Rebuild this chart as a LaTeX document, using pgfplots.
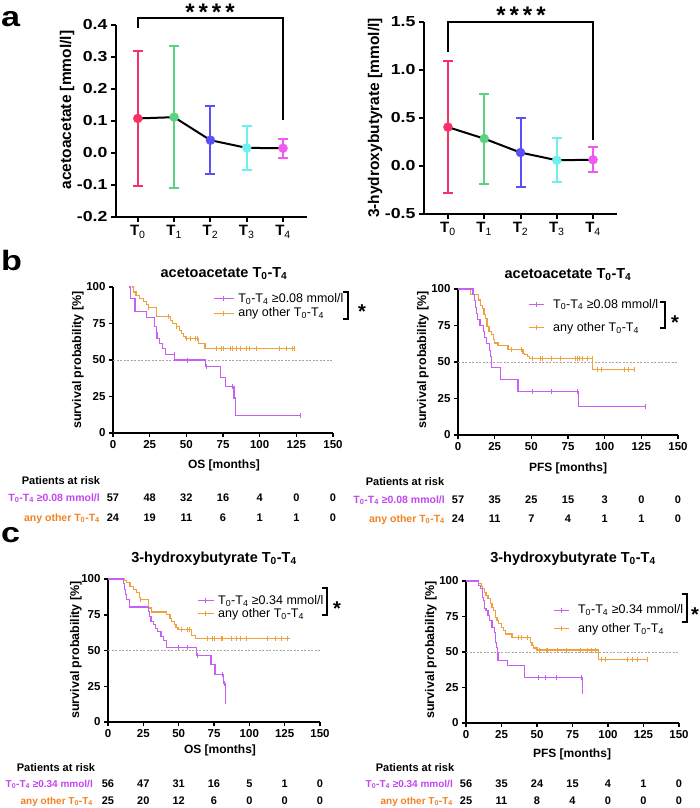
\documentclass[border=0pt]{standalone}
\usepackage{fontspec}
\setmainfont{Liberation Sans}
\newfontfamily\wide[FakeStretch=1.22]{Liberation Sans}
\usepackage{pgfplots}
\pgfplotsset{compat=1.18}
\newcommand{\fs}[1]{\fontsize{#1}{#1}\selectfont}
\definecolor{cT0}{RGB}{245,50,100}
\definecolor{cT1}{RGB}{90,210,130}
\definecolor{cT2}{RGB}{90,80,245}
\definecolor{cT3}{RGB}{110,240,240}
\definecolor{cT4}{RGB}{240,90,240}
\definecolor{colP}{RGB}{200,95,245}
\definecolor{colO}{RGB}{240,160,60}
\definecolor{txtP}{RGB}{195,70,240}
\definecolor{txtO}{RGB}{240,130,35}
\newcommand{\TT}{T\textsubscript{0}-T\textsubscript{4}}
\pgfplotsset{
  panela/.style={scale only axis, anchor=south west, axis x line=bottom, axis y line=left,
    axis line style={line width=2pt,-}, tick align=outside, major tick length=5pt,
    tick style={line width=2pt,black}, yticklabel style={font=\wide\fs{14.5}\bfseries},
    xticklabel style={font=\fs{15}\bfseries},
    xtick={0,1,2,3,4},
    xticklabels={T\textsubscript{\mdseries 0},T\textsubscript{\mdseries 1},T\textsubscript{\mdseries 2},T\textsubscript{\mdseries 3},T\textsubscript{\mdseries 4}},
    clip=false},
  eb/.style={#1, only marks, mark=*, mark size=4.5pt, error bars/.cd, y dir=both, y explicit,
    error bar style={line width=2pt,#1}, error mark options={rotate=90, mark size=5pt, line width=2pt, #1}},
  kmaxis/.style={scale only axis, anchor=south west, axis x line=bottom, axis y line=left,
    axis line style={line width=1.5pt,-}, xmin=0,xmax=150,ymin=0,ymax=100,
    xtick={0,25,...,150}, ytick={0,25,50,75,100},
    tick align=outside, major tick length=4pt, tick style={line width=1.5pt,black},
    tick label style={font=\fs{11.5}\bfseries}, /pgf/number format/assume math mode=true,
    clip=false,
    legend style={draw=none, fill=none, font=\fs{12.5}, cells={anchor=west}, inner sep=0pt,
      nodes={inner sep=1pt}, /tikz/column 1/.style={column sep=3pt}}},
  half/.style={gray!70, line width=0.6pt, dash pattern=on 2pt off 1.5pt, forget plot},
  lineP/.style={colP, line width=1.1pt, const plot, forget plot},
  lineO/.style={colO, line width=1.1pt, const plot, forget plot},
  cenP/.style={colP, only marks, mark=|, mark size=2.5pt, mark options={line width=1pt}, forget plot},
  cenO/.style={colO, only marks, mark=|, mark size=2.5pt, mark options={line width=1pt}, forget plot},
}
\begin{document}
\begin{tikzpicture}
\path[use as bounding box] (0,0) rectangle (700pt,-808pt);
% panel letters
\node[anchor=base west, inner sep=0, font=\wide\fs{28}\bfseries] at (1pt,-27pt) {a};
\node[anchor=base west, inner sep=0, font=\wide\fs{28}\bfseries] at (1pt,-270pt) {b};
\node[anchor=base west, inner sep=0, font=\wide\fs{28}\bfseries] at (1pt,-542pt) {c};

% ---------- panel a left
\begin{axis}[panela, at={(116pt,-217pt)}, width=191pt, height=192pt,
  xmin=-0.6, xmax=4.66, ymin=-0.2, ymax=0.4,
  ytick={-0.2,-0.1,0,0.1,0.2,0.3,0.4}, yticklabels={-0.2,-0.1,0.0,0.1,0.2,0.3,0.4}]
\addplot[black, line width=2pt] coordinates {(0,0.108)(1,0.112)(2,0.040)(3,0.016)(4,0.015)};
\addplot[eb=cT0] coordinates {(0,0.108) += (0,0.212) -= (0,0.211)};
\addplot[eb=cT1] coordinates {(1,0.112) += (0,0.221) -= (0,0.222)};
\addplot[eb=cT2] coordinates {(2,0.040) += (0,0.106) -= (0,0.106)};
\addplot[eb=cT3] coordinates {(3,0.016) += (0,0.067) -= (0,0.068)};
\addplot[eb=cT4] coordinates {(4,0.015) += (0,0.030) -= (0,0.031)};
\draw[line width=1.6pt] (axis cs:0,0.39) -- (axis cs:0,0.422) -- (axis cs:4,0.422) -- (axis cs:4,0.103);
\end{axis}
\node[anchor=base, inner sep=0, font=\fs{24}\bfseries] at (210pt,-20.5pt) {*\kern4pt*\kern4pt*\kern4pt*};
\node[rotate=90, font=\fs{15.5}\bfseries] at (67pt,-110pt) {acetoacetate [mmol/l]};

% ---------- panel a right
\begin{axis}[panela, at={(424pt,-214pt)}, width=193pt, height=192pt,
  xmin=-0.66, xmax=4.66, ymin=-0.5, ymax=1.5,
  ytick={-0.5,0,0.5,1,1.5}, yticklabels={-0.5,0.0,0.5,1.0,1.5}]
\addplot[black, line width=2pt] coordinates {(0,0.405)(1,0.285)(2,0.14)(3,0.06)(4,0.065)};
\addplot[eb=cT0] coordinates {(0,0.405) += (0,0.685) -= (0,0.69)};
\addplot[eb=cT1] coordinates {(1,0.285) += (0,0.465) -= (0,0.47)};
\addplot[eb=cT2] coordinates {(2,0.14) += (0,0.36) -= (0,0.36)};
\addplot[eb=cT3] coordinates {(3,0.06) += (0,0.23) -= (0,0.23)};
\addplot[eb=cT4] coordinates {(4,0.065) += (0,0.13) -= (0,0.13)};
\draw[line width=1.6pt] (axis cs:0,1.19) -- (axis cs:0,1.5) -- (axis cs:4,1.5) -- (axis cs:4,0.27);
\end{axis}
\node[anchor=base, inner sep=0, font=\fs{24}\bfseries] at (521pt,-23.5pt) {*\kern4pt*\kern4pt*\kern4pt*};
\node[rotate=90, font=\fs{15.5}\bfseries] at (375pt,-118pt) {3-hydroxybutyrate [mmol/l]};

% ---------- panel b left (OS acetoacetate)
\begin{axis}[kmaxis, at={(113pt,-433pt)}, width=220pt, height=146pt,
  legend style={at={(0.455,0.965)}, anchor=north west, row sep=2pt},
  legend image code/.code={\draw[#1,line width=1pt] (0pt,0pt) -- (20pt,0pt); \draw[#1,line width=1pt] (10pt,-2.5pt) -- (10pt,2.5pt);}]
\addplot[half] coordinates {(0,50)(150,50)};
\addplot[lineO] coordinates {(12.7,100)(13.9,96.6)(15.7,94.3)(18,92)(20.7,89.8)(23,88)(24.1,86)(29.8,79.5)(38.9,77.3)(40.7,75)(43,72.7)(45.2,70.5)(46.8,68)(48,66)(49.8,64.8)(58.2,61.4)(62.7,58)(123.6,58)};
\addplot[cenO] coordinates {(24.1,86)(37.7,79.5)(43,72.7)(49.8,64.8)(52.5,64.8)(56,64.8)(57.5,64.8)(70.7,58)(74,58)(75.2,58)(80.2,58)(81.4,58)(83.9,58)(87,58)(91,58)(93.4,58)(97.5,58)(113.6,58)(118.4,58)(122.3,58)(123.6,58)};
\addplot[lineP] coordinates {(11,100)(12,92)(15,83)(23,79)(28.6,73)(29.5,69)(30,65)(31.5,61)(33.5,58)(35.5,54)(41.8,50)(63.2,45.5)(73,38)(76.4,32)(82.5,24)(83.6,12)(128,12)};
\addplot[cenP] coordinates {(41.8,54)(51,50)(63.5,45.5)(81.6,32)(128,12)};
\addlegendimage{colP}\addlegendentry{\TT\ ≥0.08 mmol/l}
\addlegendimage{colO}\addlegendentry{any other \TT}
\end{axis}

% ---------- panel b right (PFS acetoacetate)
\begin{axis}[kmaxis, at={(458pt,-435pt)}, width=220pt, height=146pt,
  legend style={at={(0.318,0.94)}, anchor=north west, row sep=11pt, /tikz/column 1/.style={column sep=8pt}},
  legend image code/.code={\draw[#1,line width=1pt] (0pt,0pt) -- (15pt,0pt); \draw[#1,line width=1pt] (7.5pt,-2.5pt) -- (7.5pt,2.5pt);}]
\addplot[half] coordinates {(0,50)(150,50)};
\addplot[lineO] coordinates {(0,100)(8.6,96.4)(14.1,92.5)(15.5,89)(16.4,86.4)(17.7,82.3)(18.6,80)(19.8,74.3)(21.1,70.9)(22.7,68.6)(23.9,65.2)(25,63)(27.3,61.4)(34.1,58.4)(44.3,56)(45.5,55)(47.3,53.9)(48.9,52.7)(92,44.8)(120.5,44.8)};
\addplot[cenO] coordinates {(36.8,58.4)(43.2,58.4)(50.7,52.7)(56.4,52.7)(57.3,52.7)(63.6,52.7)(70,52.7)(80,52.7)(81.4,52.7)(83,52.7)(85.2,52.7)(88.6,52.7)(91.4,52.7)(94.8,44.8)(97.7,44.8)(113.2,44.8)(116.4,44.8)(120.5,44.8)};
\addplot[lineP] coordinates {(0,100)(10.2,96)(11,92)(12,87.5)(12.7,83)(13.4,79)(15,75)(17.5,71)(18.2,67)(19.5,62.5)(21.2,58)(22,54)(22.7,46)(28.9,38)(40.9,29.5)(82.3,19.8)(127.7,19.8)};
\addplot[cenP] coordinates {(50.7,29.5)(63.6,29.5)(81.4,29.5)(127.7,19.8)};
\addlegendimage{colP}\addlegendentry{\TT\ ≥0.08 mmol/l}
\addlegendimage{colO}\addlegendentry{any other \TT}
\end{axis}

% ---------- panel c left (OS 3-HB)
\begin{axis}[kmaxis, at={(108pt,-722pt)}, width=212pt, height=143pt,
  legend style={at={(0.42,0.895)}, anchor=north west, row sep=0.5pt},
  legend image code/.code={\draw[#1,line width=1pt] (0pt,0pt) -- (16pt,0pt); \draw[#1,line width=1pt] (8pt,-2.5pt) -- (8pt,2.5pt);}]
\addplot[half] coordinates {(0,50)(150,50)};
\addplot[lineO] coordinates {(0,100)(11.6,99)(13.2,97.4)(15.6,95)(17.9,92.7)(20.3,90.3)(22.6,87.3)(23.3,85.6)(28.5,79.7)(30.9,76.9)(41.5,75)(43.9,72.6)(45,70.3)(46.9,67.9)(48.1,66)(49.5,64.4)(59.2,60.8)(61.6,58.5)(128.8,58.5)};
\addplot[cenO] coordinates {(23.3,85.6)(52.1,64.4)(56.4,64.4)(58,64.4)(70.5,58.5)(73.8,58.5)(75.7,58.5)(80,58.5)(80.9,58.5)(87.5,58.5)(91,58.5)(94.1,58.5)(98.1,58.5)(113,58.5)(118.2,58.5)(122.9,58.5)(127.1,58.5)};
\addplot[lineP] coordinates {(0,100)(10.8,97)(11.6,92.7)(12.5,89)(13.2,85.6)(14.9,80.4)(28.5,77.4)(29.2,73.8)(30.4,70.3)(32.1,67.9)(33.3,65.6)(35.1,63.2)(37.5,59.7)(39.2,57.3)(41.5,51.9)(62.5,46.7)(72.9,40.1)(75.7,33)(82,26.7)(83.3,12.5)};
\addplot[cenP] coordinates {(41.5,55)(50.2,51.9)(56.1,51.9)(63,46.7)(80.9,33)(82.5,26.7)};
\addlegendimage{colP}\addlegendentry{\TT\ ≥0.34 mmol/l}
\addlegendimage{colO}\addlegendentry{any other \TT}
\end{axis}

% ---------- panel c right (PFS 3-HB)
\begin{axis}[kmaxis, at={(466pt,-723pt)}, width=213pt, height=142pt,
  legend style={at={(0.408,0.84)}, anchor=north west, row sep=6pt, /tikz/column 1/.style={column sep=8pt}},
  legend image code/.code={\draw[#1,line width=1pt] (0pt,0pt) -- (15pt,0pt); \draw[#1,line width=1pt] (7.5pt,-2.5pt) -- (7.5pt,2.5pt);}]
\addplot[half] coordinates {(0,50)(150,50)};
\addplot[lineO] coordinates {(0,100)(8.9,98.1)(10.8,96.2)(11.7,94.6)(13.1,92.2)(14.1,89.9)(15.5,87.5)(17.1,84.4)(18.3,81.6)(19.5,79.2)(20.7,74.5)(21.8,72.2)(23,69.8)(24.9,67.5)(26.5,65.1)(27.7,62.7)(32.4,60.4)(45.3,56.8)(46.5,54.5)(47.7,52.8)(50,51.4)(93,45)(128.2,45)};
\addplot[cenO] coordinates {(37.1,60.4)(39,60.4)(43,60.4)(51.6,51.4)(57,51.4)(57.7,51.4)(64.1,51.4)(71.1,51.4)(80.5,51.4)(85.9,51.4)(88.7,51.4)(91.1,51.4)(95.3,45)(98.1,45)(113.4,45)(116.9,45)(121.1,45)(127.5,45)};
\addplot[lineP] coordinates {(0,100)(8.9,97)(10.1,94.6)(11.3,88.7)(12.4,86.3)(13.1,80.4)(14.1,79.2)(15.5,75.7)(16.4,72.2)(18.3,67.5)(20.2,63.9)(20.7,56.8)(21.4,53.3)(22.1,48.6)(22.5,44.3)(29.5,40.3)(41.3,32.1)(82.2,22.2)};
\addplot[cenP] coordinates {(50.7,32.1)(56.3,32.1)(63.7,32.1)(81.2,32.1)(82.2,22.2)};
\addlegendimage{colP}\addlegendentry{\TT\ ≥0.34 mmol/l}
\addlegendimage{colO}\addlegendentry{any other \TT}
\end{axis}

% ---------- KM titles, labels
\begin{scope}[every node/.style={inner sep=0}]
\node[anchor=base, font=\fs{14.5}\bfseries] at (224pt,-277pt) {acetoacetate \TT};
\node[anchor=base, font=\fs{14.5}\bfseries] at (568pt,-278pt) {acetoacetate \TT};
\node[anchor=base, font=\fs{14.5}\bfseries] at (214pt,-562pt) {3-hydroxybutyrate \TT};
\node[anchor=base, font=\fs{14.5}\bfseries] at (573pt,-562pt) {3-hydroxybutyrate \TT};
\node[anchor=base, font=\fs{12}\bfseries] at (224pt,-468pt) {OS [months]};
\node[anchor=base, font=\fs{12}\bfseries] at (568pt,-471pt) {PFS [months]};
\node[anchor=base, font=\fs{12}\bfseries] at (220pt,-753pt) {OS [months]};
\node[anchor=base, font=\fs{12}\bfseries] at (572pt,-757pt) {PFS [months]};
\node[rotate=90, font=\fs{12.5}\bfseries] at (78pt,-360pt) {survival probability [\%]};
\node[rotate=90, font=\fs{12.5}\bfseries] at (423pt,-360pt) {survival probability [\%]};
\node[rotate=90, font=\fs{12.5}\bfseries] at (76pt,-650pt) {survival probability [\%]};
\node[rotate=90, font=\fs{12.5}\bfseries] at (431pt,-650pt) {survival probability [\%]};
% brackets and stars
\draw[line width=1.5pt] (343pt,-292pt) -- (348pt,-292pt) -- (348pt,-319pt) -- (343pt,-319pt);
\node[anchor=base, font=\fs{20}\bfseries] at (362pt,-318pt) {*};
\draw[line width=1.5pt] (660pt,-302pt) -- (665pt,-302pt) -- (665pt,-328pt) -- (660pt,-328pt);
\node[anchor=base, font=\fs{20}\bfseries] at (675pt,-329pt) {*};
\draw[line width=1.5pt] (322pt,-588pt) -- (327pt,-588pt) -- (327pt,-615pt) -- (322pt,-615pt);
\node[anchor=base, font=\fs{20}\bfseries] at (337pt,-615pt) {*};
\draw[line width=1.5pt] (682pt,-594pt) -- (687pt,-594pt) -- (687pt,-622pt) -- (682pt,-622pt);
\node[anchor=base, font=\fs{20}\bfseries] at (695pt,-621pt) {*};
% risk tables
\begin{scope}[every node/.style={inner sep=0, font=\fs{11}\bfseries}]
\node[anchor=base] at (61pt,-484pt) {Patients at risk};
\node[anchor=base east, text=txtP, font=\fs{10.5}\bfseries] at (100pt,-501pt) {\TT\ ≥0.08 mmol/l};
\node[anchor=base east, text=txtO, font=\fs{10.5}\bfseries] at (100pt,-521pt) {any other \TT};
\foreach \v [count=\i from 0] in {57,48,32,16,4,0,0} \node[anchor=base] at (113pt+\i*36.67pt,-501pt) {\v};
\foreach \v [count=\i from 0] in {24,19,11,6,1,1,0} \node[anchor=base] at (113pt+\i*36.67pt,-521pt) {\v};

\node[anchor=base] at (405pt,-485pt) {Patients at risk};
\node[anchor=base east, text=txtP, font=\fs{10.5}\bfseries] at (445pt,-503pt) {\TT\ ≥0.08 mmol/l};
\node[anchor=base east, text=txtO, font=\fs{10.5}\bfseries] at (445pt,-522pt) {any other \TT};
\foreach \v [count=\i from 0] in {57,35,25,15,3,0,0} \node[anchor=base] at (458pt+\i*36.67pt,-503pt) {\v};
\foreach \v [count=\i from 0] in {24,11,7,4,1,1,0} \node[anchor=base] at (458pt+\i*36.67pt,-522pt) {\v};

\node[anchor=base] at (56pt,-771pt) {Patients at risk};
\node[anchor=base east, text=txtP, font=\fs{10}\bfseries] at (93pt,-787pt) {\TT\ ≥0.34 mmol/l};
\node[anchor=base east, text=txtO, font=\fs{10}\bfseries] at (93pt,-804pt) {any other \TT};
\foreach \v [count=\i from 0] in {56,47,31,16,5,1,0} \node[anchor=base] at (108pt+\i*35.33pt,-787pt) {\v};
\foreach \v [count=\i from 0] in {25,20,12,6,0,0,0} \node[anchor=base] at (108pt+\i*35.33pt,-804pt) {\v};

\node[anchor=base] at (415pt,-771pt) {Patients at risk};
\node[anchor=base east, text=txtP, font=\fs{10}\bfseries] at (453pt,-787pt) {\TT\ ≥0.34 mmol/l};
\node[anchor=base east, text=txtO, font=\fs{10}\bfseries] at (453pt,-804pt) {any other \TT};
\foreach \v [count=\i from 0] in {56,35,24,15,4,1,0} \node[anchor=base] at (466pt+\i*35.5pt,-787pt) {\v};
\foreach \v [count=\i from 0] in {25,11,8,4,0,0,0} \node[anchor=base] at (466pt+\i*35.5pt,-804pt) {\v};
\end{scope}
\end{scope}
\end{tikzpicture}
\end{document}
